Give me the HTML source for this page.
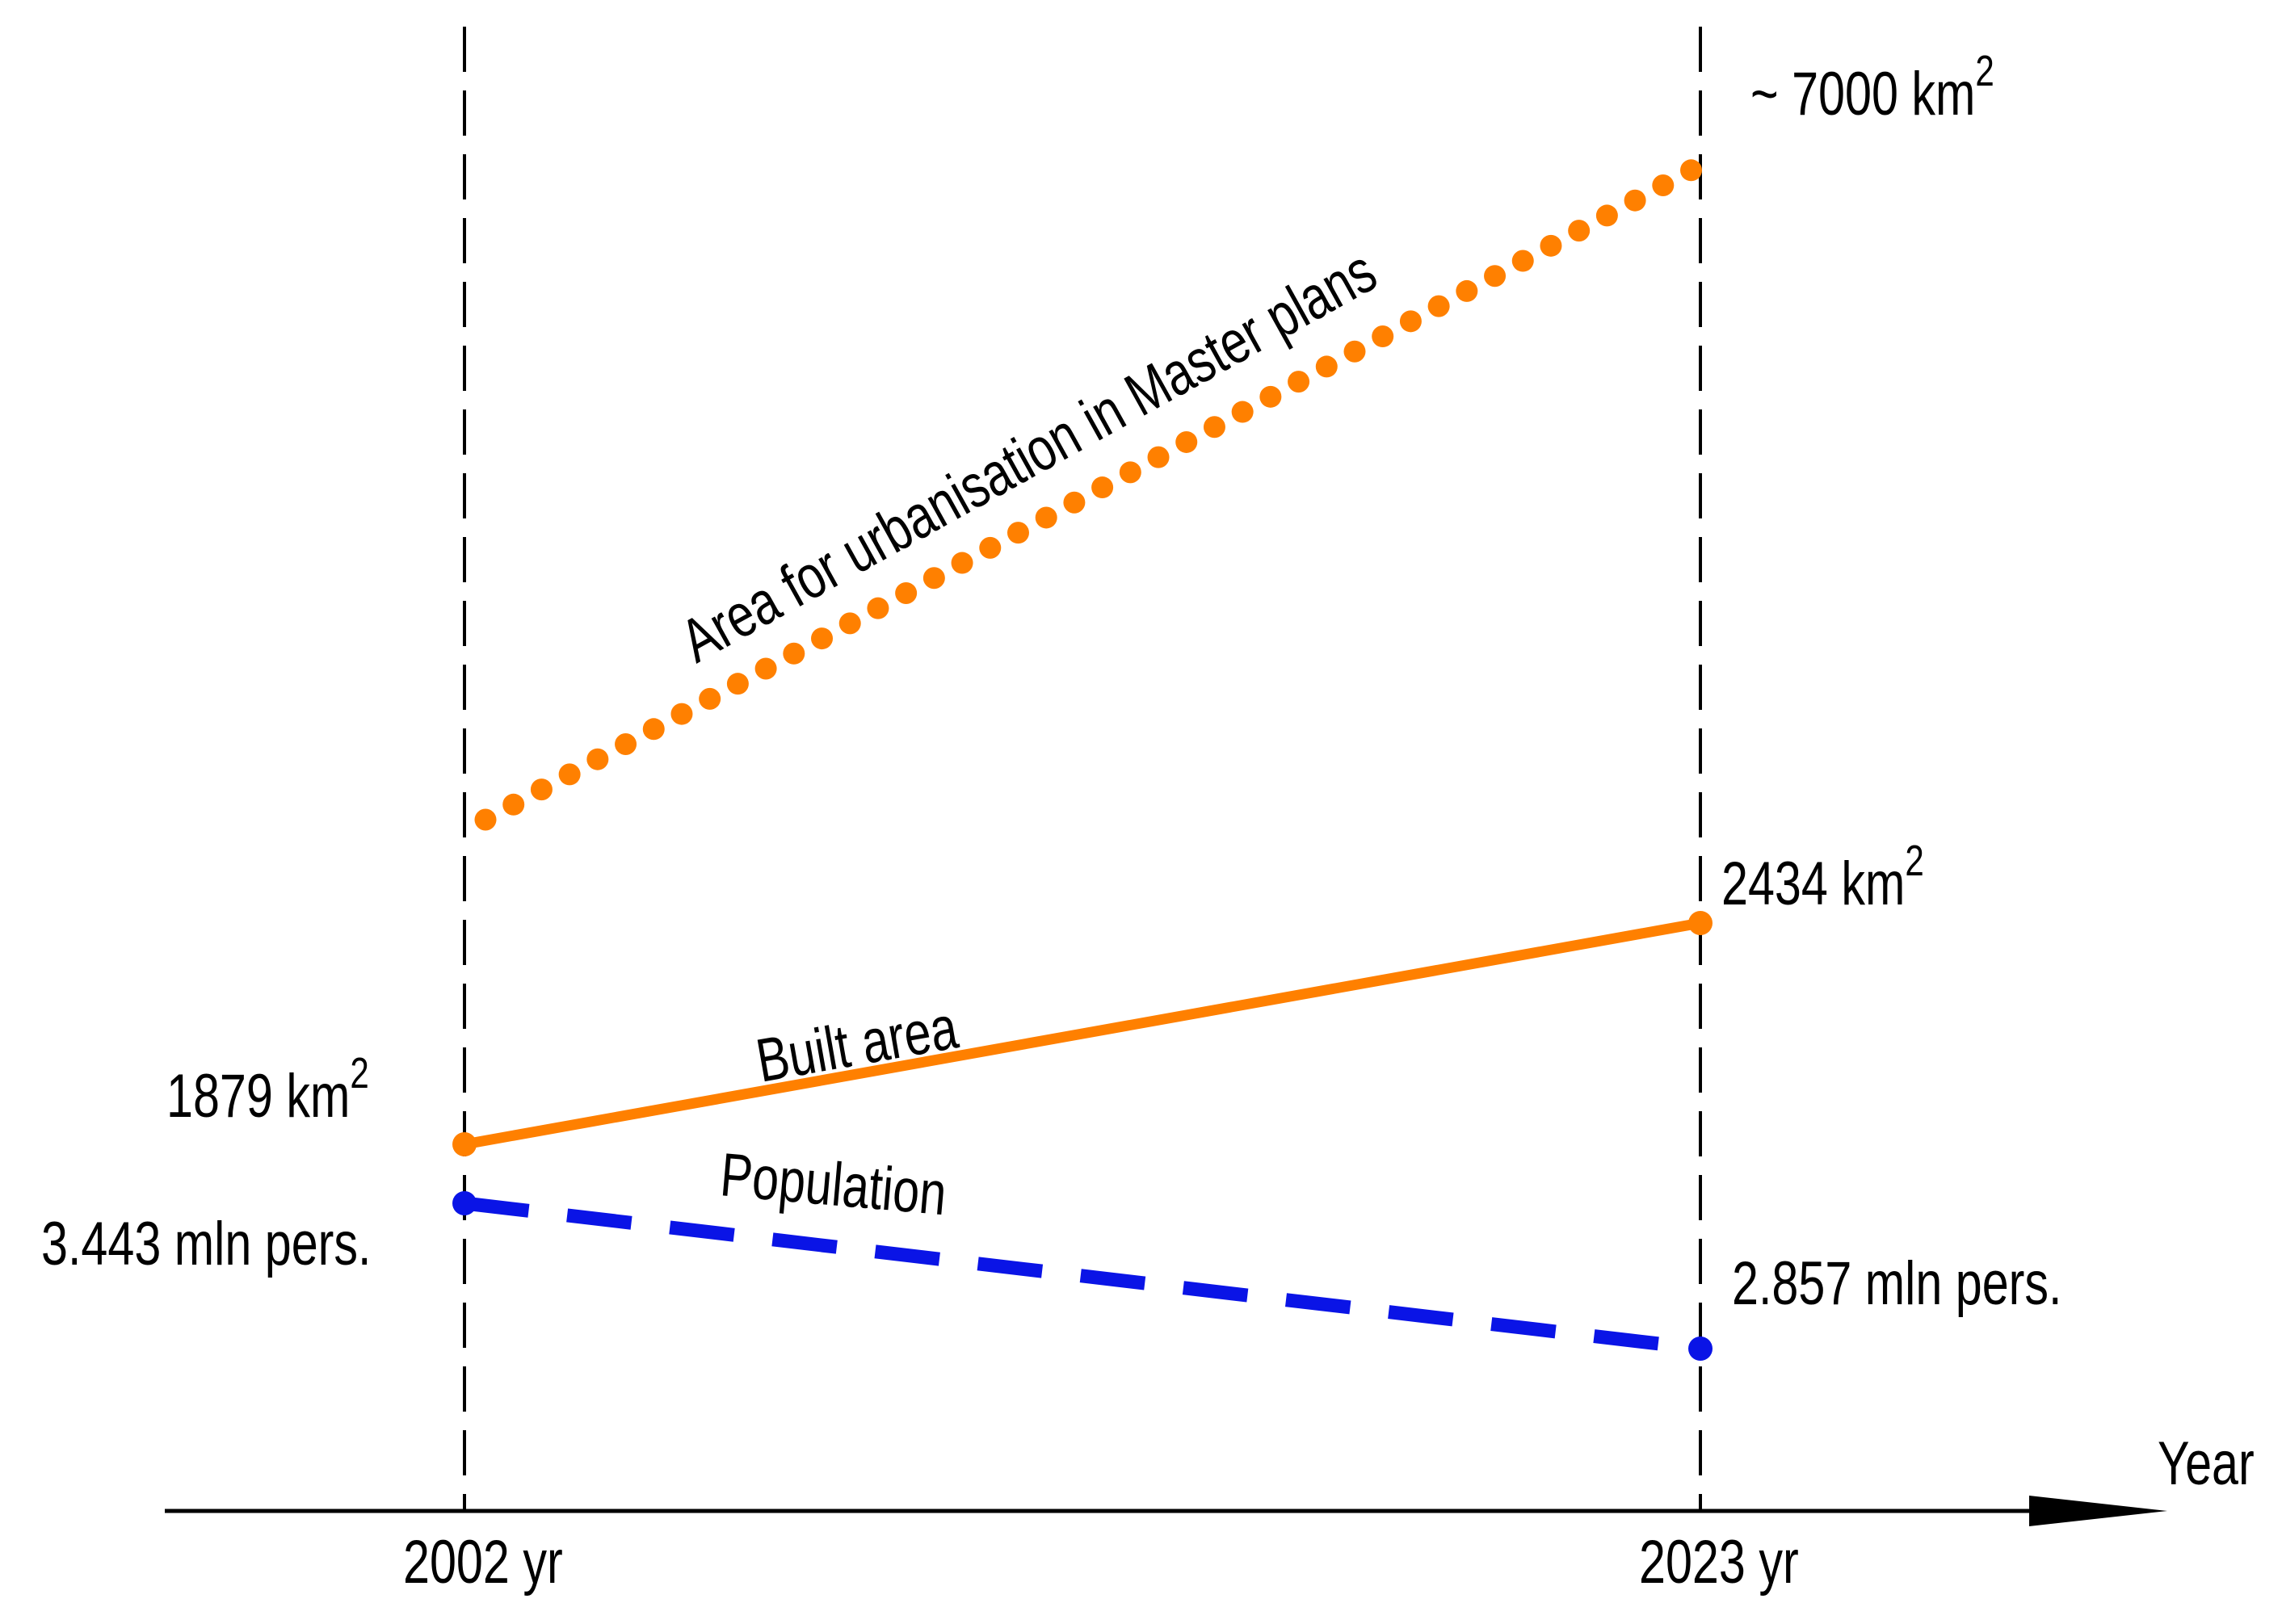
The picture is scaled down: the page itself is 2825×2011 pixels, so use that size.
<!DOCTYPE html>
<html><head><meta charset="utf-8"><style>
html,body{margin:0;padding:0;background:#fff;}
svg{display:block;}
text{font-family:"Liberation Sans",Arial,sans-serif;fill:#000;}
</style></head><body>
<svg id="chart" width="2825" height="2011" viewBox="0 0 2825 2011" xmlns="http://www.w3.org/2000/svg">
<g id="guides"></g>
<g id="axis">
  <line x1="204" y1="1871" x2="2530" y2="1871" stroke="#000" stroke-width="5"/>
  <polygon points="2512,1852 2683,1871 2512,1890" fill="#000"/>
  <g transform="translate(2671,1838) scale(0.78,1)"><text font-size="76">Year</text></g>
</g>
<g id="series"></g>
<g id="labels"></g>
</svg>
<script>
const years = [2002, 2023];
const yearLabels = ["2002 yr", "2023 yr"];
const builtArea = [1879, 2434];
const population = [3.443, 2.857];
const masterPlan = [3500, 7000];

const NS = "http://www.w3.org/2000/svg";
function x(yr){ return 575 + (yr - 2002) * (2105 - 575) / 21; }
function yBuilt(v){ return 1417 + (v - 1879) * (1143 - 1417) / (2434 - 1879); }
function yPop(v){ return 1490 + (v - 3.443) * (1670 - 1490) / (2.857 - 3.443); }
function yPlan(v){ return 1015 + (v - 3500) * (210 - 1015) / (7000 - 3500); }

function mk(tag, attrs, parent){
  const e = document.createElementNS(NS, tag);
  for (const k in attrs) e.setAttribute(k, attrs[k]);
  parent.appendChild(e);
  return e;
}
const guides = document.getElementById('guides');
const series = document.getElementById('series');
const labels = document.getElementById('labels');

years.forEach((yr, i) => {
  const l = mk('line', {x1:x(yr), y1:33, x2:x(yr), y2:1871, stroke:'#000', 'stroke-width':4, 'stroke-dasharray':'56 23'}, guides);
  
  
  const g = mk('g', {transform:'translate(' + (x(yr) - 76) + ',1960) scale(0.78,1)'}, labels);
  const t = mk('text', {'font-size':76}, g);
  t.textContent = yearLabels[i];
  
  
});

// master plan dotted
const px1 = x(years[0]) + 26, py1 = yPlan(masterPlan[0]);
const px2 = x(years[1]) - 10, py2 = yPlan(masterPlan[1]);
const plen = Math.hypot(px2 - px1, py2 - py1);
const pstep = plen / Math.round(plen / 39.5) * 0.999;
const plan = mk('line', {x1:px1, y1:py1, x2:px2, y2:py2, stroke:'#ff8000', 'stroke-width':27, 'stroke-linecap':'round', 'stroke-dasharray':'0 ' + pstep}, series);



// built area
const built = mk('line', {x1:x(years[0]), y1:yBuilt(builtArea[0]), x2:x(years[1]), y2:yBuilt(builtArea[1]), stroke:'#ff8000', 'stroke-width':13}, series);


builtArea.forEach((v, i) => {
  const c = mk('circle', {cx:x(years[i]), cy:yBuilt(v), r:15, fill:'#ff8000'}, series);
  
  
});

// population
const pop = mk('line', {x1:x(years[0]), y1:yPop(population[0]), x2:x(years[1]), y2:yPop(population[1]), stroke:'#0a14e6', 'stroke-width':17, 'stroke-dasharray':'80 48'}, series);


population.forEach((v, i) => {
  const c = mk('circle', {cx:x(years[i]), cy:yPop(v), r:15, fill:'#0a14e6'}, series);
  
  
});

function label(name, tx, ty, rot, str, sup){
  const g = mk('g', {transform:'translate(' + tx + ',' + ty + ') rotate(' + rot + ') scale(0.78,1)'}, labels);
  const t = mk('text', {'font-size':76}, g);
  
  
  t.appendChild(document.createTextNode(str));
  if (sup) {
    const s = mk('tspan', {dy:-36, 'font-size':54}, t);
    s.textContent = sup;
  }
  return t;
}
label('master-plan-value-label', 2167, 142, 0, '~ 7000 km', '2');
label('built-area-2023-label', 2131, 1120, 0, '2434  km', '2');
label('built-area-2002-label', 206, 1383, 0, '1879  km', '2');
label('population-2002-label', 51, 1566, 0, '3.443 mln pers.');
label('population-2023-label', 2144, 1615, 0, '2.857 mln pers.');
label('built-area-series-label', 942, 1340, -10, 'Built area');
label('population-series-label', 890, 1480, 5, 'Population');
label('master-plan-series-label', 862, 822, -29, 'Area for urbanisation in Master plans');
</script>
</body></html>
